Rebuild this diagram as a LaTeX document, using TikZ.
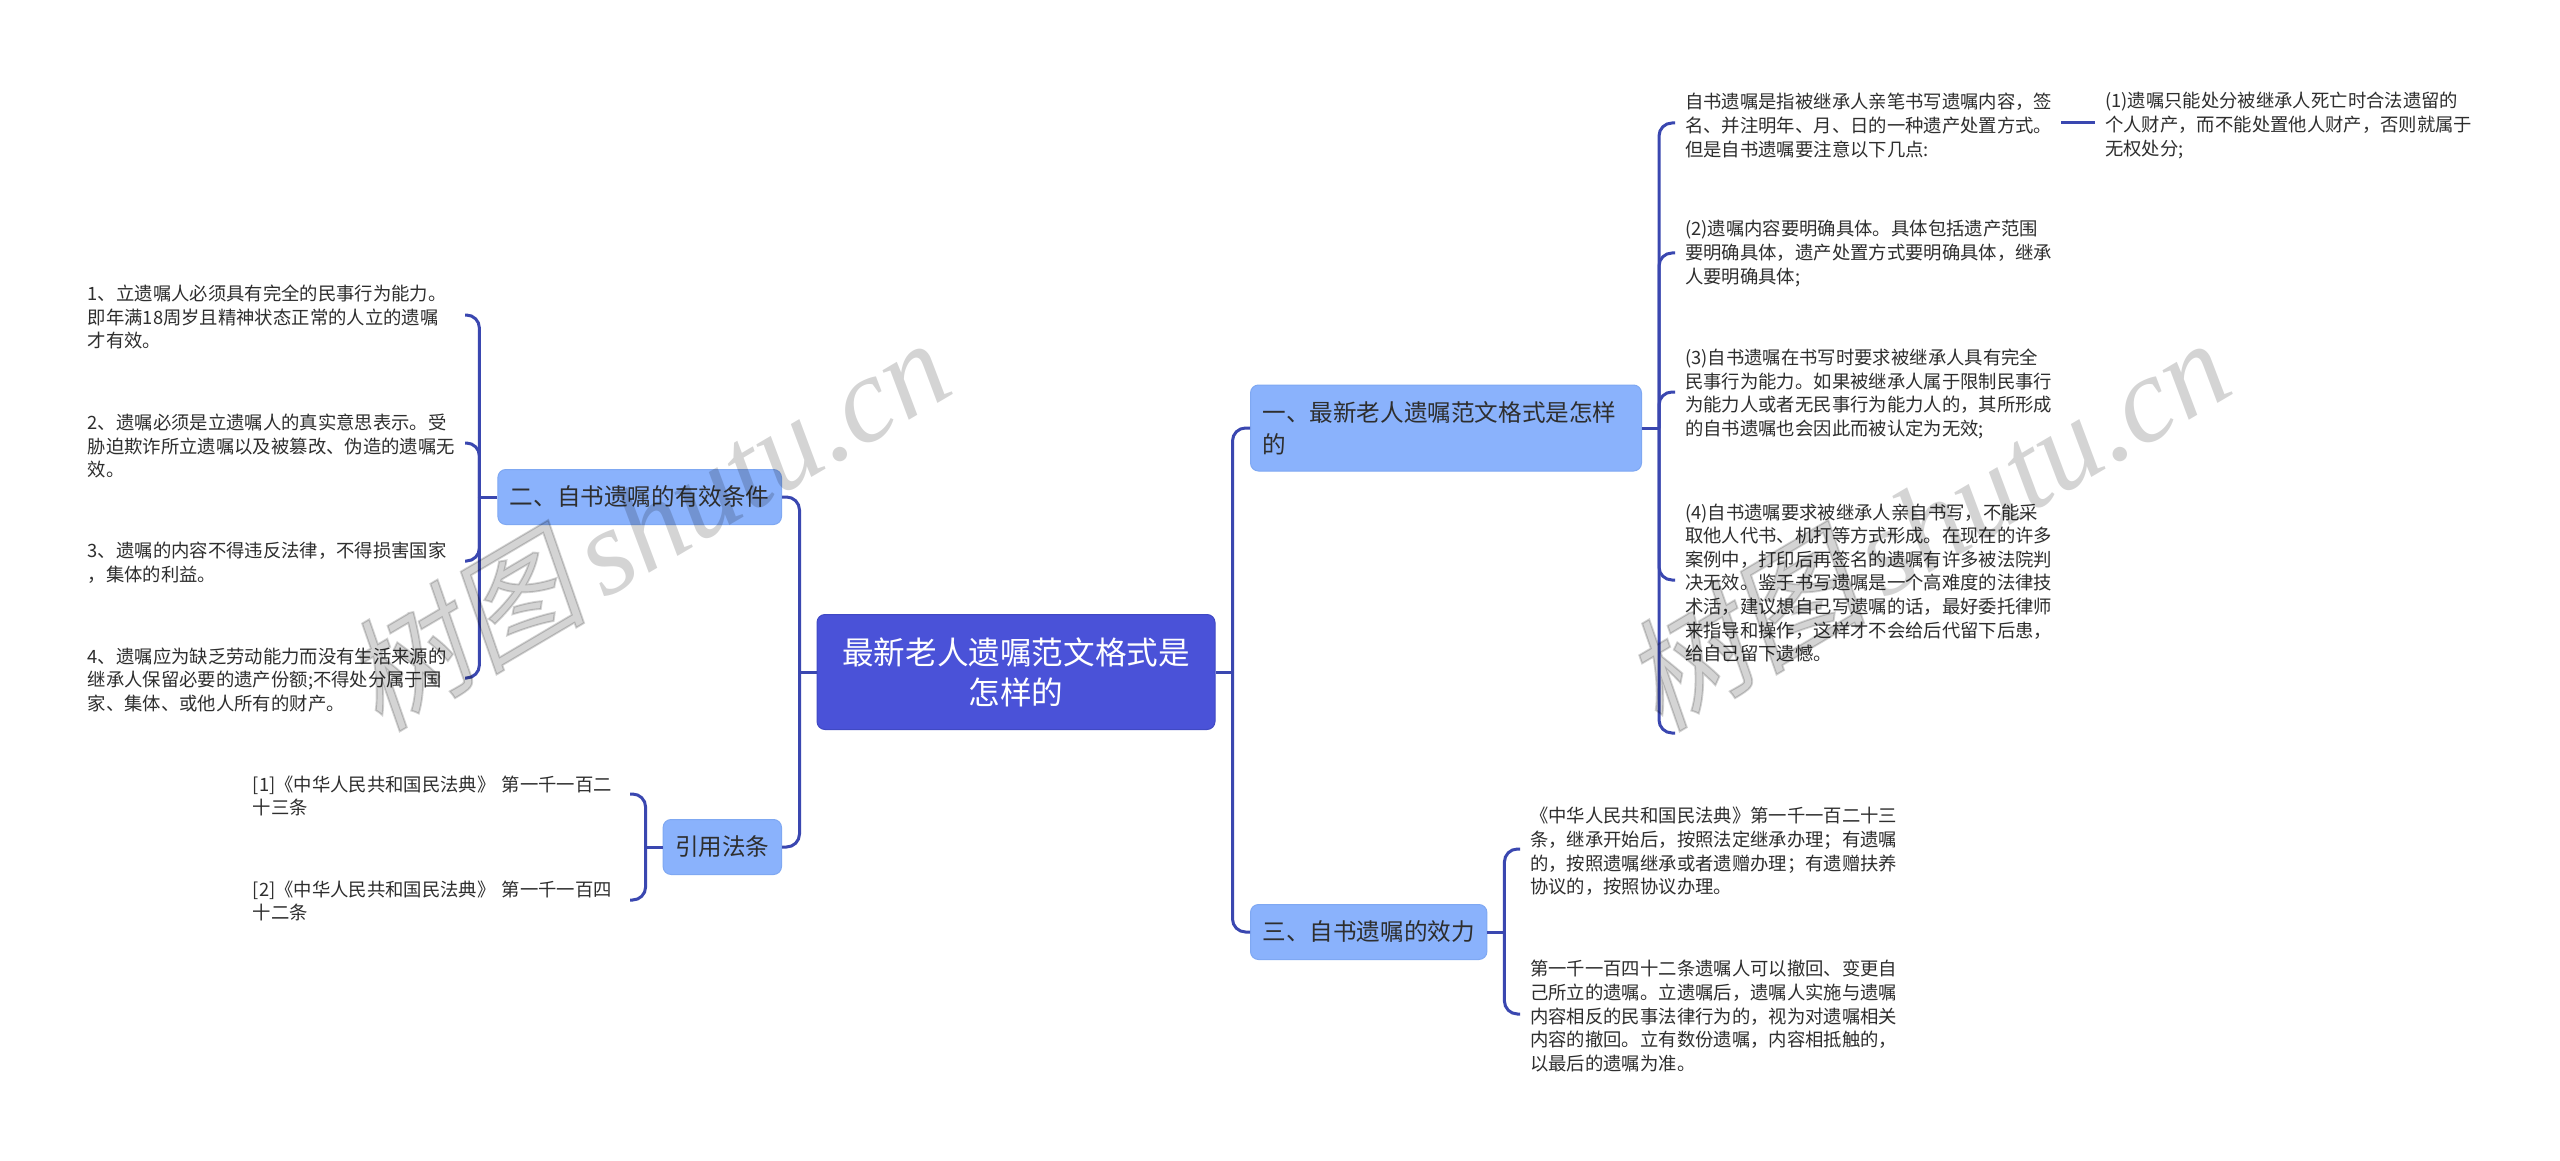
\documentclass[tikz,border=0pt]{standalone}
\usepackage{fontspec}
\setmainfont{Noto Sans CJK SC}
\newfontfamily\wmlat{Liberation Serif}
\newfontfamily\wmcjk[FakeSlant=0.2,FakeBold=1.5]{Noto Sans CJK SC}
\definecolor{linec}{HTML}{3A47B0}
\definecolor{rootc}{HTML}{4A52D8}
\definecolor{rootb}{HTML}{4049C4}
\definecolor{branchc}{HTML}{8AB2FC}
\definecolor{branchb}{HTML}{7FA8F2}
\definecolor{txt}{HTML}{2E2E2E}
\tikzset{
 rootbox/.style={draw=rootb,line width=1pt,fill=rootc,rounded corners=8pt,text=white,align=center,minimum width=398pt,minimum height=115pt,inner sep=0pt,font=\fontsize{31.6}{40}\selectfont},
 branch/.style={draw=branchb,line width=1pt,fill=branchc,rounded corners=8pt,text=txt,align=left,inner xsep=12pt,inner ysep=0pt,font=\fontsize{23.6}{32}\selectfont},
 leaf/.style={text=txt,align=left,text width=367pt,inner xsep=10pt,inner ysep=0pt,font=\fontsize{18.35}{23.6}\selectfont},
 conn/.style={draw=linec,line width=3pt,rounded corners=13pt},
 stem/.style={draw=linec,line width=3pt},
 wmark/.style={text=black,text opacity=0.17,rotate=30.5,inner sep=0pt}
}
\begin{document}
\begin{tikzpicture}[x=1pt,y=-1pt]
\useasboundingbox (0,0) rectangle (2560,1161);
\fill[white] (0,0) rectangle (2560,1161);
% main boxes
\node[rootbox] (root) at (1016,672) {最新老人遗嘱范文格式是\\怎样的};
\node[branch,anchor=west,text width=367pt,minimum height=86pt] (b1) at (1250,428) {一、最新老人遗嘱范文格式是怎样\\的};
\node[branch,anchor=west,minimum height=55pt] (b3) at (1250,932) {三、自书遗嘱的效力};
\node[branch,anchor=east,minimum height=55pt] (b2) at (782,497) {二、自书遗嘱的有效条件};
\node[branch,anchor=east,minimum height=55pt] (b4) at (782,847) {引用法条};
% leaves right
\node[leaf,anchor=west] (a1) at (1675,125.5) {自书遗嘱是指被继承人亲笔书写遗嘱内容，签\\名、并注明年、月、日的一种遗产处置方式。\\但是自书遗嘱要注意以下几点:};
\node[leaf,anchor=west] (a2) at (1675,253.5) {(2)遗嘱内容要明确具体。具体包括遗产范围\\要明确具体，遗产处置方式要明确具体，继承\\人要明确具体;};
\node[leaf,anchor=west] (a3) at (1675,394) {(3)自书遗嘱在书写时要求被继承人具有完全\\民事行为能力。如果被继承人属于限制民事行\\为能力人或者无民事行为能力人的，其所形成\\的自书遗嘱也会因此而被认定为无效;};
\node[leaf,anchor=west] (a4) at (1675,583) {(4)自书遗嘱要求被继承人亲自书写，不能采\\取他人代书、机打等方式形成。在现在的许多\\案例中，打印后再签名的遗嘱有许多被法院判\\决无效。鉴于书写遗嘱是一个高难度的法律技\\术活，建议想自己写遗嘱的话，最好委托律师\\来指导和操作，这样才不会给后代留下后患，\\给自己留下遗憾。};
\coordinate (a5) at (1675,733);
\node[leaf,anchor=west] (a11) at (2095,125.5) {(1)遗嘱只能处分被继承人死亡时合法遗留的\\个人财产，而不能处置他人财产，否则就属于\\无权处分;};
% leaves branch 3
\node[leaf,anchor=west] (c1) at (1520,851.5) {《中华人民共和国民法典》第一千一百二十三\\条，继承开始后，按照法定继承办理；有遗嘱\\的，按照遗嘱继承或者遗赠办理；有遗赠扶养\\协议的，按照协议办理。};
\node[leaf,anchor=west] (c2) at (1520,1016) {第一千一百四十二条遗嘱人可以撤回、变更自\\己所立的遗嘱。立遗嘱后，遗嘱人实施与遗嘱\\内容相反的民事法律行为的，视为对遗嘱相关\\内容的撤回。立有数份遗嘱，内容相抵触的，\\以最后的遗嘱为准。};
% leaves left
\node[leaf,anchor=east] (d1) at (465,317) {1、立遗嘱人必须具有完全的民事行为能力。\\即年满18周岁且精神状态正常的人立的遗嘱\\才有效。};
\node[leaf,anchor=east] (d2) at (465,446) {2、遗嘱必须是立遗嘱人的真实意思表示。受\\胁迫欺诈所立遗嘱以及被篡改、伪造的遗嘱无\\效。};
\node[leaf,anchor=east] (d3) at (465,563) {3、遗嘱的内容不得违反法律，不得损害国家\\，集体的利益。};
\node[leaf,anchor=east] (d4) at (465,680) {4、遗嘱应为缺乏劳动能力而没有生活来源的\\继承人保留必要的遗产份额;不得处分属于国\\家、集体、或他人所有的财产。};
\node[leaf,anchor=east] (e1) at (630,796) {[1]《中华人民共和国民法典》 第一千一百二\\十三条};
\node[leaf,anchor=east] (e2) at (630,901) {[2]《中华人民共和国民法典》 第一千一百四\\十二条};
% spine coordinates
\coordinate (sr) at ([xshift=17pt]root.east);
\coordinate (sl) at ([xshift=-17pt]root.west);
\coordinate (s1) at ([xshift=17pt]b1.east);
\coordinate (s3) at ([xshift=17pt]b3.east);
\coordinate (s2) at ([xshift=-18pt]b2.west);
\coordinate (s4) at ([xshift=-17pt]b4.west);
% stems
\draw[stem] (root.east) -- (sr);
\draw[stem] (root.west) -- (sl);
\draw[stem] (b1.east) -- (s1);
\draw[stem] (b3.east) -- (s3);
\draw[stem] (b2.west) -- (s2);
\draw[stem] (b4.west) -- (s4);
\draw[stem] ([yshift=2.5pt,xshift=-1pt]a1.east) -- ([yshift=2.5pt]a11.west);
% branches
\draw[conn] (sr) |- (b1.west);
\draw[conn] (sr) |- (b3.west);
\draw[conn] (sl) |- (b2.east);
\draw[conn] (sl) |- (b4.east);
\draw[conn] (s1) |- ([yshift=2.5pt]a1.west);
\draw[conn] (s1) |- ([yshift=0.5pt]a2.west);
\draw[conn] (s1) |- ([yshift=2pt]a3.west);
\draw[conn] (s1) |- ([yshift=3pt]a4.west);
\draw[conn] (s1) |- (a5);
\draw[conn] (s3) |- ([yshift=2.5pt]c1.west);
\draw[conn] (s3) |- ([yshift=2pt]c2.west);
\draw[conn] (s2) |- ([yshift=2pt]d1.east);
\draw[conn] (s2) |- ([yshift=3pt]d2.east);
\draw[conn] (s2) |- ([yshift=2pt]d3.east);
\draw[conn] (s2) |- ([yshift=2pt]d4.east);
\draw[conn] (s4) |- ([yshift=2pt]e1.east);
\draw[conn] (s4) |- ([yshift=1pt]e2.east);
% watermarks
\node[wmark] (w1) at (645,522) {\fontsize{122}{130}\selectfont\wmcjk 树图\hspace{-10pt} \wmlat\itshape shutu.cn};
\node[wmark] (w2) at (1925,522) {\fontsize{122}{130}\selectfont\wmcjk 树图\hspace{-10pt} \wmlat\itshape shutu.cn};
\end{tikzpicture}
\end{document}
